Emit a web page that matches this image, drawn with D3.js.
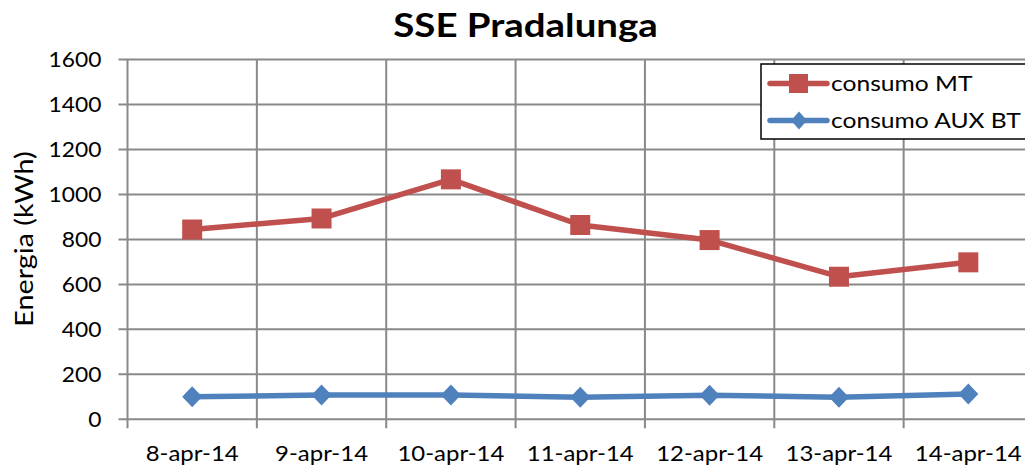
<!DOCTYPE html>
<html><head><meta charset="utf-8">
<script src="https://cdn.jsdelivr.net/npm/d3@7/dist/d3.min.js"></script>
<style>body{margin:0;background:#fff;overflow:hidden}svg{display:block}</style>
</head><body>
<svg id="c" width="1025" height="466"></svg>
<script>
const categories = ["8-apr-14","9-apr-14","10-apr-14","11-apr-14","12-apr-14","13-apr-14","14-apr-14"];
const consumoMT = [844, 893, 1067, 864, 797, 634, 698];
const consumoAUX = [100, 108, 108, 98, 107, 98, 112];
const yTicks = [0,200,400,600,800,1000,1200,1400,1600];
const seriesNames = ["consumo MT","consumo AUX BT"];
const colors = ["#C0504D","#4F81BD"];

const svg = d3.select("#c");
const font = "Lato, 'Open Sans', sans-serif";
const L = 127.5, R = 1033, T = 59.5, B = 419.3;
const x = d3.scaleBand().domain(categories).range([L, R]);
const y = d3.scaleLinear().domain([0,1600]).range([B, T]);
const grid = "#898989";

// stretch a text horizontally to a target width (reference font is wider than Lato)
function stretch(sel, factor){
  sel.each(function(){
    const w = this.getComputedTextLength();
    d3.select(this).attr("textLength", w*factor).attr("lengthAdjust","spacingAndGlyphs");
  });
}

// horizontal gridlines
svg.append("g").selectAll("line").data(yTicks).join("line")
  .attr("x1", L-9).attr("x2", R).attr("y1", d=>y(d)).attr("y2", d=>y(d))
  .attr("stroke", grid).attr("stroke-width", 2);
// vertical gridlines (band boundaries)
const bounds = categories.map(c=>x(c)).concat([R]);
svg.append("g").selectAll("line").data(bounds).join("line")
  .attr("x1", d=>d).attr("x2", d=>d).attr("y1", T).attr("y2", B+9)
  .attr("stroke", grid).attr("stroke-width", 2);

// y tick labels
svg.append("g").selectAll("text").data(yTicks).join("text")
  .attr("x", 101.5).attr("y", d=>y(d)).attr("dy","0.36em")
  .attr("text-anchor","end").attr("font-family",font).attr("font-size",21.5).attr("fill","#000")
  .text(d=>d).call(stretch, 1.06);
// x tick labels
svg.append("g").selectAll("text").data(categories).join("text")
  .attr("x", d=>x(d)+x.bandwidth()/2).attr("y", 460.5)
  .attr("text-anchor","middle").attr("font-family",font).attr("font-size",21).attr("fill","#000")
  .text(d=>d).call(stretch, 1.14);

// title
svg.append("text").attr("x", 525.5).attr("y", 36.5).attr("text-anchor","middle")
  .attr("font-family",font).attr("font-weight","bold").attr("font-size",32).text("SSE Pradalunga")
  .call(stretch, 1.2);
// y axis title
svg.append("text").attr("transform","translate(32.5,239) rotate(-90)").attr("text-anchor","middle")
  .attr("font-family",font).attr("font-size",25).text("Energia (kWh)").call(stretch, 1.15);

const line = d3.line().x((d,i)=>x(categories[i])+x.bandwidth()/2).y(d=>y(d));
// MT series
svg.append("path").datum(consumoMT).attr("d", line).attr("fill","none")
  .attr("stroke", colors[0]).attr("stroke-width", 5.5).attr("stroke-linejoin","round");
svg.append("g").selectAll("rect").data(consumoMT).join("rect")
  .attr("x",(d,i)=>x(categories[i])+x.bandwidth()/2-10).attr("y",d=>y(d)-10)
  .attr("width",20).attr("height",20).attr("fill",colors[0]);
// AUX series
svg.append("path").datum(consumoAUX).attr("d", line).attr("fill","none")
  .attr("stroke", colors[1]).attr("stroke-width", 5.5).attr("stroke-linejoin","round");
const diamond = (cx,cy,w,h)=>`M${cx},${cy-h}L${cx+w},${cy}L${cx},${cy+h}L${cx-w},${cy}Z`;
svg.append("g").selectAll("path").data(consumoAUX).join("path")
  .attr("d",(d,i)=>diamond(x(categories[i])+x.bandwidth()/2, y(d), 10, 10.5)).attr("fill",colors[1]);

// legend
const lg = svg.append("g");
lg.append("rect").attr("x",761).attr("y",64).attr("width",300).attr("height",75)
  .attr("fill","#fff").attr("stroke","#000").attr("stroke-width",1.5);
const rows = [83.5, 120.5];
seriesNames.forEach((n,i)=>{
  lg.append("line").attr("x1",770).attr("x2",827).attr("y1",rows[i]).attr("y2",rows[i])
    .attr("stroke",colors[i]).attr("stroke-width",5.5).attr("stroke-linecap","round");
  if(i===0) lg.append("rect").attr("x",789).attr("y",rows[i]-9.5).attr("width",19).attr("height",19).attr("fill",colors[0]);
  else lg.append("path").attr("d",diamond(799,rows[i],8,9)).attr("fill",colors[1]);
  lg.append("text").attr("x",831).attr("y",rows[i]+7.3)
    .attr("font-family",font).attr("font-size",20.5).text(n).call(stretch, 1.2);
});
</script>
</body></html>
